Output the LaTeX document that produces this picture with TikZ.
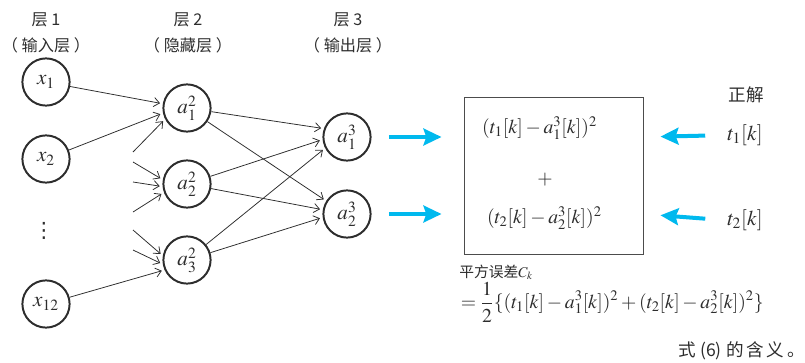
\documentclass[tikz,border=0pt]{standalone}
\usepackage{mathptmx}
\usepackage[no-math]{fontspec}
\setmainfont{Noto Sans CJK SC}
\newfontfamily\dotsfont{DejaVu Sans}
\usetikzlibrary{arrows.meta}

\definecolor{feedblue}{RGB}{0,185,238}
\definecolor{inkgray}{RGB}{45,45,45}

\begin{document}
\begin{tikzpicture}[color=inkgray,
  neuron/.style={circle, draw, line width=1.4pt, minimum size=1.18cm, inner sep=0pt,
    font=\fontsize{15}{17}\selectfont},
  wire/.style={-{Straight Barb[length=4pt,width=6.5pt]}, line width=0.55pt, shorten >=2pt},
  feed/.style={-{Stealth[length=0.45cm,width=0.42cm,inset=0.07cm]}, line width=0.1cm, feedblue},
  layer/.style={font=\fontsize{11.5}{18.5}\selectfont, align=center},
  formula/.style={font=\fontsize{14}{16}\selectfont},
  note/.style={font=\fontsize{11.5}{14}\selectfont}]
\useasboundingbox (0,0) rectangle (20.125,9.05);

% layer titles
\node[layer] (h1) at (1.15,8.225) {层 1\\（ 输入层 ）};
\node[layer] (h2) at (4.7,8.225) {层 2\\（ 隐藏层 ）};
\node[layer] (h3) at (8.7,8.225) {层 3\\（ 输出层 ）};

% input layer
\node[neuron] (x1) at (1.15,7.0) {$x_{1}$};
\node[neuron] (x2) at (1.15,5.075) {$x_{2}$};
\node[font=\dotsfont\fontsize{15}{17}\selectfont, inner sep=0pt] (vd) at (1.1,3.28) {⋮};
\node[neuron] (x12) at (1.15,1.45) {$x_{12}$};

% hidden layer
\node[neuron] (a12) at (4.675,6.35) {$a^{2}_{1}$};
\node[neuron] (a22) at (4.675,4.45) {$a^{2}_{2}$};
\node[neuron] (a32) at (4.675,2.55) {$a^{2}_{3}$};

% output layer
\node[neuron] (a13) at (8.675,5.625) {$a^{3}_{1}$};
\node[neuron] (a23) at (8.675,3.7) {$a^{3}_{2}$};

% loose ends of the other inputs
\coordinate (s1) at (3.325,5.25);
\coordinate (s2) at (3.325,5.0);
\coordinate (s3) at (3.325,4.5);
\coordinate (s4) at (3.325,3.75);
\coordinate (s5) at (3.325,3.3);
\coordinate (s6) at (3.325,2.8);

\draw[wire] (x1) -- (a12.170);
\draw[wire] (x2) -- (a12.192);
\draw[wire] (s1) -- (a12.207);
\draw[wire] (s2) -- (a22.170);
\draw[wire] (s3) -- (a22.186);
\draw[wire] (s4) -- (a22.200);
\draw[wire] (s5) -- (a32.170);
\draw[wire] (s6) -- (a32.190);
\draw[wire] (x12) -- (a32.204);

\draw[wire] (a12) -- (a13.160);
\draw[wire] (a12) -- (a23.148);
\draw[wire] (a22) -- (a13.186);
\draw[wire] (a22) -- (a23.170);
\draw[wire] (a32) -- (a13.207);
\draw[wire] (a32) -- (a23.188);

% error box
\node[draw=black!70, line width=0.7pt, minimum width=4.475cm, minimum height=3.925cm] (box) at (13.8375,4.6625) {};
\node[formula] (e1) at (13.49,5.85) {$(t_1[k]-a^3_1[k])^2$};
\node[formula] (pl) at (13.625,4.55) {$+$};
\node[formula] (e2) at (13.61,3.6) {$(t_2[k]-a^3_2[k])^2$};

% correct answers
\node[note, font=\fontsize{12.5}{14}\selectfont] (ans) at (18.65,6.675) {正解};
\node[formula, font=\fontsize{15}{17}\selectfont] (t1) at (18.625,5.67) {$t_1[k]$};
\node[formula, font=\fontsize{15}{17}\selectfont] (t2) at (18.625,3.55) {$t_2[k]$};

\draw[feed, shorten <=0.43cm, shorten >=0.55cm] (a13) -- (box.west |- a13);
\draw[feed, shorten <=0.43cm, shorten >=0.55cm] (a23) -- (box.west |- a23);
\draw[feed, shorten <=0.43cm, shorten >=0.425cm] (t1.west) -- (box.east |- a13);
\draw[feed, shorten <=0.43cm, shorten >=0.425cm] (t2.west) -- (box.east |- a23);

% squared error
\node[note, anchor=west, inner sep=1pt, font=\fontsize{10.5}{12}\selectfont] (err) at (11.44,2.24) {平方误差$C_k$};
\node[formula, anchor=west, inner sep=1pt] (eq) at (11.48,1.5)
  {$=\displaystyle\frac{1}{2}\{(t_1[k]-a^3_1[k])^2+(t_2[k]-a^3_2[k])^2\}$};
\node[note, anchor=east, inner sep=0pt, font=\fontsize{12.5}{14}\selectfont] (cap) at (20.125,0.27)
  {式\hspace{3pt}(6)\hspace{3pt}的\hspace{2pt}含\hspace{2pt}义\hspace{2pt}。};
\end{tikzpicture}
\end{document}
